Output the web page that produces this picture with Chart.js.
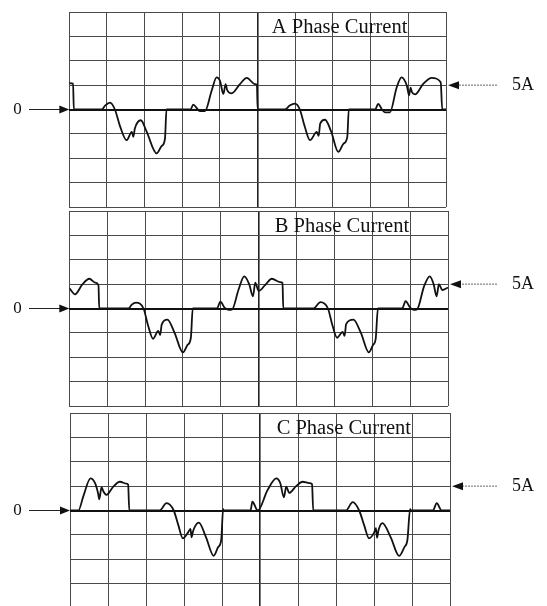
<!DOCTYPE html>
<html><head><meta charset="utf-8">
<script src="https://cdn.jsdelivr.net/npm/chart.js@4.4.1/dist/chart.umd.min.js"></script>
<style>
html,body{margin:0;padding:0;background:#fff;overflow:hidden;width:547px;height:606px;}
canvas{position:absolute;left:0;}
</style></head><body>
<canvas id="cA"></canvas>
<canvas id="cB"></canvas>
<canvas id="cC"></canvas>
<script>
// ---- data (time in screen divisions, current in amperes) ----
const timeDivisionTicks = [0,1,2,3,4,5,6,7,8,9,10];
const currentTicks = [-20,-15,-10,-5,0,5,10,15,20];
const phaseTitles = ['A Phase Current','B Phase Current','C Phase Current'];
const zeroLabel = '0';
const refLabel = '5A';
const refCurrent = 5;

const timeA = [0,0.1,0.12,0.86,0.95,1.08,1.21,1.35,1.52,1.66,1.70,1.74,1.90,2.05,2.32,2.45,2.54,2.58,3.22,3.29,3.40,3.47,3.60,3.78,3.91,4.0,4.09,4.15,4.19,4.31,4.53,4.71,4.93,4.98,5.0,5.73,5.85,5.99,6.12,6.25,6.39,6.57,6.62,6.66,6.79,6.95,7.14,7.28,7.38,7.42,8.12,8.20,8.30,8.38,8.51,8.69,8.82,8.96,9.02,9.06,9.10,9.18,9.40,9.62,9.86,9.90,10];
const currentA = [5.4,5.3,0,0,0.8,1.4,0,-3.5,-6.3,-4.6,-5.6,-3.9,-2.2,-4.5,-9.0,-7.5,-6.0,0,0,1.0,0.1,-0.35,-0.35,3.9,6.6,5.9,3.2,5.2,4.0,3.3,5.2,6.5,5.2,5.1,0,0,0.8,1.2,0,-3.5,-6.3,-4.6,-5.4,-2.9,-2.1,-4.5,-8.7,-7.0,-5.6,0,0,1.16,0,-0.6,-0.6,4.5,6.6,4.9,2.9,4.5,3.5,3.1,5.3,6.5,5.6,0,0];

const timeB = [0,0.15,0.35,0.53,0.68,0.77,0.79,1.56,1.65,1.76,1.96,2.08,2.21,2.35,2.40,2.44,2.59,2.78,3.0,3.12,3.21,3.26,3.90,3.99,4.10,4.21,4.30,4.47,4.62,4.75,4.85,4.91,5.0,5.17,5.35,5.57,5.63,5.65,6.45,6.63,6.83,6.95,7.07,7.22,7.27,7.31,7.50,7.70,7.91,8.02,8.09,8.15,8.79,8.88,9.0,9.10,9.18,9.37,9.52,9.62,9.70,9.76,9.85,10];
const currentB = [4.2,2.9,5.0,6.1,5.3,4.8,0,0,0.8,1.2,0,-3.5,-6.2,-4.6,-5.4,-3.3,-2.3,-5.0,-9.0,-7.5,-6.0,0,0,1.4,0.2,-0.3,-0.2,3.9,6.6,5.0,2.5,5.3,3.6,4.8,6.1,5.4,5.2,0,0,1.3,0,-3.5,-6.0,-4.8,-5.6,-3.2,-2.3,-5.0,-9.0,-7.5,-6.3,0,0,1.5,0.2,-0.3,-0.2,4.6,6.6,5.0,2.5,5.0,3.8,4.3];

const timeC = [0,0.22,0.35,0.54,0.66,0.74,0.77,0.83,0.88,0.96,1.14,1.31,1.49,1.53,1.56,2.36,2.54,2.73,2.85,2.97,3.10,3.17,3.20,3.24,3.39,3.58,3.78,3.90,3.98,4.03,4.04,4.75,4.80,4.94,5.2,5.43,5.53,5.63,5.69,5.77,5.95,6.12,6.30,6.37,6.40,7.26,7.44,7.61,7.74,7.87,8.0,8.05,8.08,8.12,8.22,8.44,8.66,8.80,8.88,8.95,8.97,9.55,9.65,9.78,10];
const currentC = [0,0,2.9,6.6,5.6,3.5,2.3,4.8,3.9,3.2,4.9,5.9,5.5,5.3,0,0,1.5,0,-3.0,-5.7,-4.6,-3.8,-5.5,-4.2,-2.5,-5.5,-9.3,-7.5,-6.0,0.3,0,0,1.8,0,4.2,6.6,5.7,2.7,4.9,3.6,5.0,5.9,5.6,5.4,0,0,1.7,0,-3.0,-5.7,-4.6,-3.6,-5.6,-4.0,-2.6,-5.5,-9.3,-7.5,-6.0,0.3,0,0,1.5,0,0];

// ---- layout (pixel frame of each oscilloscope panel) ----
const W = 547;
const frames = [
  {id:'cA', top:11.5, bottom:206.5, left:69.3, right:446},
  {id:'cB', top:211.4, bottom:406.6, left:69.3, right:448},
  {id:'cC', top:413, bottom:608, left:70, right:450}
];
const series = [[timeA,currentA],[timeB,currentB],[timeC,currentC]];
const PAD = 12;
const SERIF = '"Liberation Serif","Times New Roman",serif';

function makeAnnot(title){
  return {
    id:'annot',
    afterDraw(chart){
      const ctx = chart.ctx, xs = chart.scales.x, ys = chart.scales.y;
      const ca = chart.chartArea;
      const y0 = ys.getPixelForValue(0), y5 = ys.getPixelForValue(refCurrent);
      ctx.save();
      // title
      ctx.fillStyle = '#111';
      ctx.font = '20.5px ' + SERIF;
      ctx.textAlign = 'right'; ctx.textBaseline = 'alphabetic';
      ctx.fillText(title, xs.getPixelForValue(9) - 1, ca.top + 20.5);
      // zero label + arrow
      ctx.font = '17px ' + SERIF;
      ctx.textAlign = 'center'; ctx.textBaseline = 'middle';
      ctx.fillText(zeroLabel, 17.5, y0);
      ctx.strokeStyle = '#222'; ctx.lineWidth = 1;
      ctx.beginPath(); ctx.moveTo(29, y0); ctx.lineTo(ca.left - 6, y0); ctx.stroke();
      ctx.beginPath(); ctx.moveTo(ca.left, y0); ctx.lineTo(ca.left - 10, y0 - 4); ctx.lineTo(ca.left - 10, y0 + 4); ctx.closePath(); ctx.fill();
      // 5A label + arrow
      ctx.textAlign = 'left';
      ctx.font = '18px ' + SERIF;
      ctx.fillText(refLabel, 512, y5);
      ctx.strokeStyle = '#666'; ctx.setLineDash([2,1]);
      ctx.beginPath(); ctx.moveTo(497, y5); ctx.lineTo(ca.right + 8, y5); ctx.stroke();
      ctx.setLineDash([]);
      ctx.beginPath(); ctx.moveTo(ca.right + 2, y5); ctx.lineTo(ca.right + 13, y5 - 4); ctx.lineTo(ca.right + 13, y5 + 4); ctx.closePath(); ctx.fill();
      ctx.restore();
    }
  };
}

frames.forEach((f, i) => {
  const cv = document.getElementById(f.id);
  const h = Math.round(f.bottom - f.top) + 2*PAD;
  cv.width = W; cv.height = h;
  cv.style.width = W + 'px'; cv.style.height = h + 'px';
  cv.style.top = (f.top - PAD) + 'px';
  const [tx, cy] = series[i];
  const pts = tx.map((t, k) => ({x: t, y: cy[k]}));
  new Chart(cv, {
    type: 'line',
    data: { datasets: [{
      data: pts, borderColor: '#111', borderWidth: 1.8, pointRadius: 0,
      cubicInterpolationMode: 'monotone', fill: false
    }]},
    options: {
      responsive: false, animation: false, devicePixelRatio: 1,
      layout: { padding: { left: f.left, right: W - f.right, top: PAD, bottom: PAD } },
      plugins: { legend: {display:false}, tooltip: {enabled:false}, title:{display:false} },
      scales: {
        x: { type:'linear', min:0, max:10,
             afterBuildTicks: s => { s.ticks = timeDivisionTicks.map(v => ({value:v})); },
             ticks: { display:false },
             grid: { drawTicks:false, color: c => (c.tick && c.tick.value === 5) ? '#222' : '#4a4a4a',
                     lineWidth: c => (c.tick && c.tick.value === 5) ? 1.6 : 1 },
             border: { display:false } },
        y: { type:'linear', min:-20, max:20,
             afterBuildTicks: s => { s.ticks = currentTicks.map(v => ({value:v})); },
             ticks: { display:false },
             grid: { drawTicks:false, color: c => (c.tick && c.tick.value === 0) ? '#111' : '#4a4a4a',
                     lineWidth: c => (c.tick && c.tick.value === 0) ? 2 : 1 },
             border: { display:false } }
      }
    },
    plugins: [makeAnnot(phaseTitles[i])]
  });
});
</script>
</body></html>
